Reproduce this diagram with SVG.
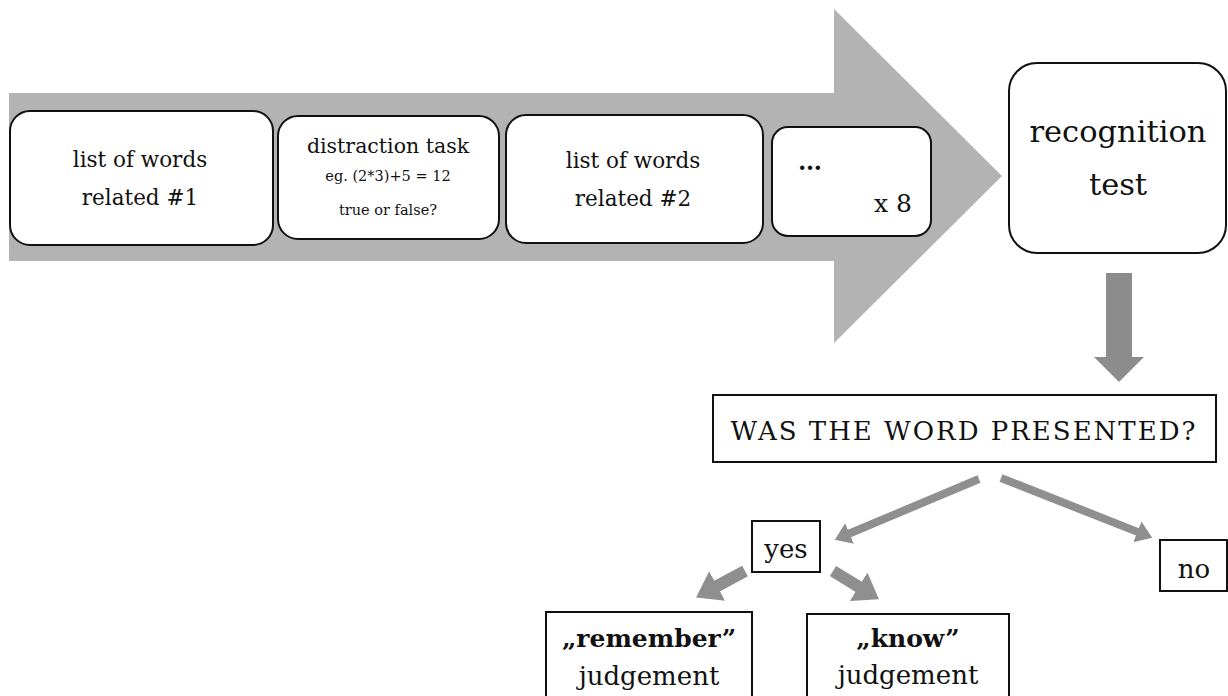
<svg xmlns="http://www.w3.org/2000/svg" width="1228" height="696" viewBox="0 0 1228 696">
<defs>
<style>
.t{font-family:"DejaVu Serif","Liberation Serif",serif;fill:#111;text-anchor:middle}
.rb{fill:#fff;stroke:#111;stroke-width:2}
.sb{fill:#fff;stroke:#111;stroke-width:2}
.conn{stroke:#8f8f8f;fill:none}
</style>
<marker id="ah" markerUnits="strokeWidth" markerWidth="2" markerHeight="2.8" viewBox="0 0 2 2.8" refX="0.1" refY="1.4" orient="auto">
<path d="M0,0 L2,1.4 L0,2.8 z" fill="#8f8f8f"/>
</marker>
</defs>
<rect width="1228" height="696" fill="#fff"/>
<g id="flow-arrow">
<polygon points="9,93 834,93 834,9 1002,176 834,343 834,261 9,261" fill="#b3b3b3"/>
</g>
<g id="list1">
<rect class="rb" x="10" y="111" width="263" height="134" rx="20"/>
<text class="t" x="140" y="167" font-size="21.5">list of words</text>
<text class="t" x="140" y="205" font-size="21.5">related #1</text>
</g>
<g id="distraction">
<rect class="rb" x="278" y="116" width="221" height="123" rx="20"/>
<text class="t" x="388" y="153" font-size="20.5">distraction task</text>
<text class="t" x="388" y="181" font-size="14.5">eg. (2*3)+5 = 12</text>
<text class="t" x="388" y="215" font-size="14.5">true or false?</text>
</g>
<g id="list2">
<rect class="rb" x="506" y="115" width="257" height="128" rx="20"/>
<text class="t" x="633" y="168" font-size="21.5">list of words</text>
<text class="t" x="633" y="206" font-size="21.5">related #2</text>
</g>
<g id="repeat">
<rect class="rb" x="772" y="127" width="159" height="109" rx="16"/>
<text class="t" x="810" y="170" font-size="24" font-weight="bold">…</text>
<text class="t" x="893" y="212" font-size="25">x 8</text>
</g>
<g id="recognition">
<rect class="rb" x="1009" y="63" width="217" height="190" rx="28" stroke-width="2.5"/>
<text class="t" x="1118" y="142" font-size="30.5">recognition</text>
<text class="t" x="1118" y="195" font-size="30.5">test</text>
</g>
<g id="question">
<rect class="sb" x="713" y="395" width="503" height="67"/>
<text class="t" x="964" y="440" font-size="26" letter-spacing="2">WAS THE WORD PRESENTED?</text>
</g>
<g id="yes">
<rect class="sb" x="752" y="521" width="68" height="51"/>
<text class="t" x="786" y="558" font-size="26">yes</text>
</g>
<g id="no">
<rect class="sb" x="1160" y="540" width="67" height="51"/>
<text class="t" x="1194" y="578" font-size="26">no</text>
</g>
<g id="remember">
<rect class="sb" x="546" y="612" width="206" height="90"/>
<text class="t" x="649" y="647" font-size="25" font-weight="bold">„remember”</text>
<text class="t" x="649" y="685" font-size="26">judgement</text>
</g>
<g id="know">
<rect class="sb" x="807" y="614" width="202" height="90"/>
<text class="t" x="908" y="647" font-size="25" font-weight="bold">„know”</text>
<text class="t" x="908" y="684" font-size="26">judgement</text>
</g>
<g id="connectors">
<polygon points="1106,273 1132,273 1132,357 1144,357 1119,382 1094,357 1106,357" fill="#8c8c8c"/>
<line class="conn" x1="979" y1="479" x2="848.8" y2="533.8" stroke-width="8" marker-end="url(#ah)"/>
<line class="conn" x1="1001" y1="478" x2="1138.1" y2="532.1" stroke-width="8" marker-end="url(#ah)"/>
<line class="conn" x1="745" y1="571" x2="716.1" y2="586.6" stroke-width="12" marker-end="url(#ah)"/>
<line class="conn" x1="833" y1="571" x2="859.6" y2="587.4" stroke-width="12" marker-end="url(#ah)"/>
</g>
</svg>
